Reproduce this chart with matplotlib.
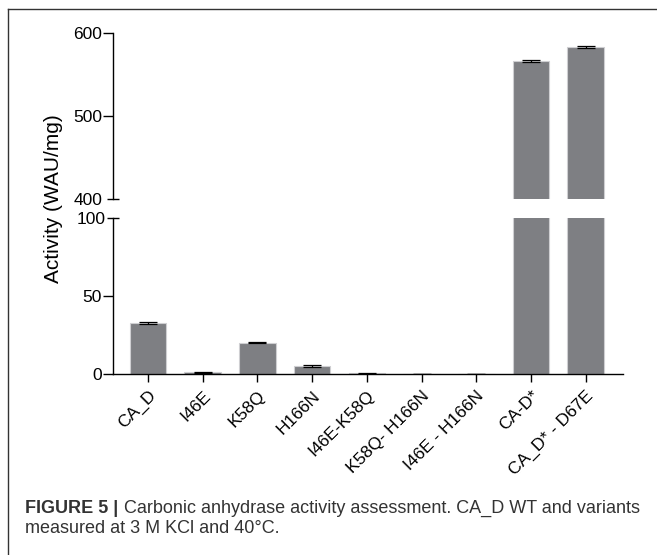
import matplotlib
matplotlib.use("Agg")
import matplotlib.pyplot as plt
from matplotlib.lines import Line2D

plt.rcParams['font.family'] = ['Liberation Sans', 'DejaVu Sans']

variants = ['CA_D', 'I46E', 'K58Q', 'H166N', 'I46E-K58Q', 'K58Q- H166N',
            'I46E - H166N', 'CA-D*', 'CA_D* - D67E']
activity = [32.7, 1.0, 20.0, 5.2, 0.5, 0.0, 0.0, 566.5, 583.0]
errors = [0.4, 0.2, 0.3, 0.5, 0.2, 0.0, 0.0, 1.2, 1.0]
low_ticks = [0, 50, 100]
high_ticks = [500, 600]

bar_color = '#7e7f83'
edge_color = '#cfcfd2'
tick_size = 12.5

fig = plt.figure(figsize=(6.57, 5.55), dpi=100)
ax_low = fig.add_axes([0.172, 0.3261, 0.776, 0.2811])
ax_high = fig.add_axes([0.172, 0.6414, 0.776, 0.2991])

x = list(range(len(variants)))
for ax in (ax_low, ax_high):
    ax.bar(x, activity, width=0.67, color=bar_color, edgecolor=edge_color,
           linewidth=0.8, zorder=2)
    ax.errorbar(x, activity, yerr=errors, fmt='none', ecolor='black',
                elinewidth=0.9, capsize=6.5, capthick=0.9, zorder=3)
    ax.set_xlim(-0.64, 8.68)
    for s in ('top', 'right'):
        ax.spines[s].set_visible(False)
    ax.spines['left'].set_linewidth(1.0)
    ax.tick_params(axis='y', labelsize=tick_size, length=7, width=1.0, pad=1)

# lower part
ax_low.set_ylim(0, 100)
ax_low.set_yticks(low_ticks[:-1])
ax_low.set_yticks([100], minor=True)
ax_low.set_yticklabels(['100'], minor=True)
ax_low.tick_params(axis='y', which='minor', direction='inout', length=9,
                   width=1.0, labelsize=tick_size, pad=1)
ax_low.spines['bottom'].set_linewidth(1.0)
ax_low.set_xticks(x)
ax_low.set_xticklabels(variants, rotation=45, ha='right',
                       rotation_mode='anchor', fontsize=tick_size)
ax_low.tick_params(axis='x', length=6, width=1.0, pad=4)

# upper part
ax_high.set_ylim(400, 600)
ax_high.set_yticks(high_ticks)
ax_high.set_yticks([400], minor=True)
ax_high.set_yticklabels(['400'], minor=True)
ax_high.tick_params(axis='y', which='minor', direction='inout', length=9,
                    width=1.0, labelsize=tick_size, pad=3)
ax_high.spines['bottom'].set_visible(False)
ax_high.set_xticks([])

fig.text(54 / 657, 1 - 199 / 555, 'Activity (WAU/mg)', rotation=90,
         fontsize=15, ha='center', va='center')

# frame of the figure panel
fig.add_artist(Line2D([8 / 657, 8 / 657], [0, 1 - 9 / 555], color='#333333',
                      linewidth=1.0, transform=fig.transFigure))
fig.add_artist(Line2D([8 / 657, 1], [1 - 9 / 555, 1 - 9 / 555],
                      color='#333333', linewidth=1.0,
                      transform=fig.transFigure))

# caption
cap_size = 13
bold = fig.text(25 / 657, 1 - 513 / 555, 'FIGURE 5 |', fontsize=cap_size,
                fontweight='bold', color='#333333', va='baseline')
fig.canvas.draw()
bb = bold.get_window_extent().transformed(fig.transFigure.inverted())
fig.text(bb.x1 + 6 / 657, 1 - 513 / 555,
         'Carbonic anhydrase activity assessment. CA_D WT and variants',
         fontsize=cap_size, color='#333333', va='baseline')
fig.text(25 / 657, 1 - 533 / 555, 'measured at 3 M KCl and 40\u00b0C.',
         fontsize=cap_size, color='#333333', va='baseline')

fig.savefig('out.png', dpi=100)
